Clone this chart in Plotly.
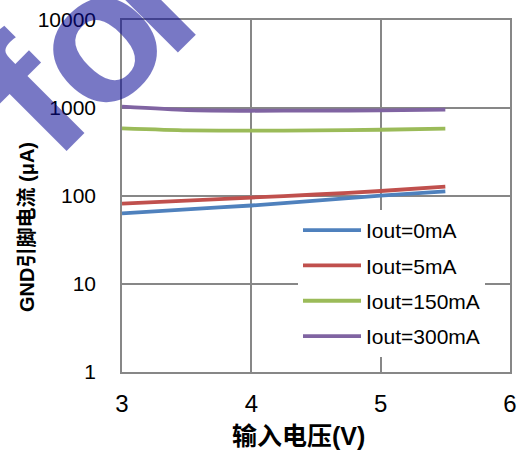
import plotly.graph_objects as go

# Input voltage (V) and GND pin current (uA) for each output load
vin = [3.0, 3.5, 4.0, 4.5, 5.0, 5.5]
i_0ma = [63.5, 70.5, 78, 88.5, 100.7, 113]
i_5ma = [82, 88.5, 96, 104, 114, 128]
i_150ma = [586, 556, 552, 556, 566, 582]
i_300ma = [1035, 949, 931, 935, 940, 957]

series_names = ["Iout=0mA", "Iout=5mA", "Iout=150mA", "Iout=300mA"]
series_values = [i_0ma, i_5ma, i_150ma, i_300ma]
series_colors = ["#4F81BD", "#C0504D", "#9BBB59", "#8064A2"]

y_tickvals = [1, 10, 100, 1000, 10000]
y_ticktext = ["1", "10", "100", "1000", "10000"]
x_tickvals = [3, 4, 5, 6]
x_ticktext = ["3", "4", "5", "6"]

sans = "Liberation Sans, Arial, sans-serif"
grid = "#878787"

fig = go.Figure()
for name, vals, color in zip(series_names, series_values, series_colors):
    fig.add_trace(go.Scatter(
        x=vin, y=vals, name=name, mode="lines", legendgroup=name,
        line=dict(color=color, width=3.8, shape="spline", smoothing=0.6),
    ))

fig.update_layout(
    width=524, height=459,
    margin=dict(l=122, r=14, t=20, b=87, autoexpand=False),
    plot_bgcolor="white", paper_bgcolor="white",
    font=dict(family=sans, color="black"),
    showlegend=True,
    legend=dict(
        x=(298 - 122) / 388, y=(372 - 210) / 352, xanchor="left", yanchor="top",
        bgcolor="white", borderwidth=0,
        font=dict(family=sans, size=21, color="black"),
        itemwidth=58, tracegroupgap=5,
    ),
)

fig.update_xaxes(
    range=[3, 6], tickvals=x_tickvals, ticktext=x_ticktext,
    showgrid=True, gridcolor=grid, gridwidth=1.5,
    showline=True, linecolor=grid, linewidth=1.5, mirror=True,
    ticks="outside", ticklen=9, tickcolor="rgba(0,0,0,0)",
    tickfont=dict(family=sans, size=24), zeroline=False,
)
fig.update_yaxes(
    type="log", range=[0, 4], tickvals=y_tickvals, ticktext=y_ticktext,
    showgrid=True, gridcolor=grid, gridwidth=1.5,
    showline=True, linecolor=grid, linewidth=1.5, mirror=True,
    ticks="outside", ticklen=20, tickcolor="rgba(0,0,0,0)",
    tickfont=dict(family=sans, size=21), zeroline=False,
)

# Axis titles
fig.add_annotation(
    text="<b>输入电压(V)</b>", xref="paper", yref="paper",
    x=(298 - 122) / 388, y=-(436 - 372) / 352, xanchor="center", yanchor="middle",
    showarrow=False,
    font=dict(family="Liberation Sans, Noto Sans CJK SC", size=25, color="black"),
)
fig.add_annotation(
    text="<b>GND引脚电流 (μA)</b>", xref="paper", yref="paper",
    x=-(122 - 27) / 388, y=(372 - 227) / 352, xanchor="center", yanchor="middle",
    textangle=-90, showarrow=False,
    font=dict(family="Liberation Sans, Noto Sans CJK SC", size=20, color="black"),
)

# Diagonal watermark in the upper-left corner, one glyph per annotation
mark_letters = ["f", "o", "r"]
mark_centers_px = [(31, 96), (94, 40), (149, -9)]
for letter, (px, py) in zip(mark_letters, mark_centers_px):
    fig.add_annotation(
        text="<b>" + letter + "</b>", xref="paper", yref="paper",
        x=(px - 122) / 388, y=(372 - py) / 352, xanchor="center", yanchor="middle",
        textangle=-45, showarrow=False,
        font=dict(family="Liberation Sans, Arial", size=185, color="rgba(10,10,150,0.55)"),
    )

fig.write_html("out.html")
